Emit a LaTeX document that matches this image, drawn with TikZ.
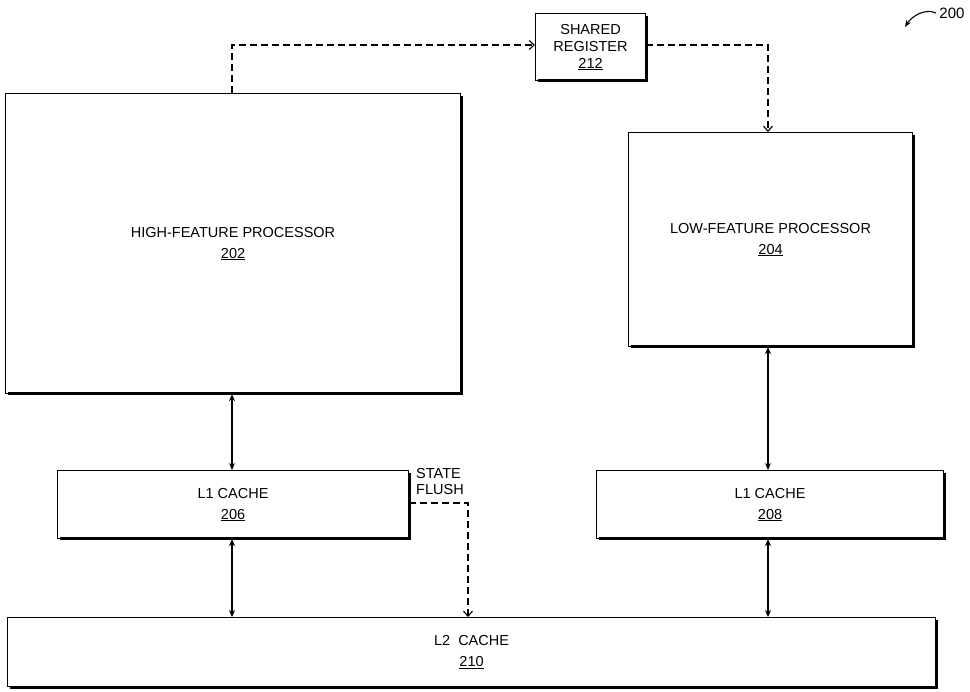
\documentclass[tikz,border=0pt]{standalone}
\usepackage{fontspec}
\setmainfont{Liberation Sans}
\usetikzlibrary{arrows.meta}
\begin{document}
\begin{tikzpicture}[x=1pt,y=-1pt,
  box/.style={draw,line width=1.1pt,fill=white,align=center,font=\fontsize{14.5}{17}\selectfont,inner sep=0pt},
  shadow/.style={line width=3pt},
  dsh/.style={line width=1.1pt,dash pattern=on 7pt off 4pt},
  arr/.style={line width=1.1pt,{Stealth[length=7pt,width=6pt]}-{Stealth[length=7pt,width=6pt]}},
  tip/.style={-{Straight Barb[length=5pt,width=9pt]}}]
\useasboundingbox (0,0) rectangle (970,692);
\newcommand{\bx}[6]{%
  \node[box,minimum width=#4-#2,minimum height=#5-#3,anchor=north west] (#1) at (#2,#3) {#6};
  \draw[shadow] (#4+1,#3+3) -- (#4+1,#5+1) -- (#2+3,#5+1);}
\bx{sr}{535}{13}{645}{80}{SHARED\\REGISTER\\\underline{212}}
\bx{hf}{5}{93}{460}{393}{HIGH-FEATURE PROCESSOR\\[4pt]\underline{202}}
\bx{lf}{628}{132}{912}{346}{LOW-FEATURE PROCESSOR\\[4pt]\underline{204}}
\bx{la}{57}{470}{408}{538}{L1 CACHE\\[4pt]\underline{206}}
\bx{lb}{596}{470}{943}{538}{L1 CACHE\\[4pt]\underline{208}}
\bx{l2}{7}{617}{935}{686}{L2\ \ CACHE\\[4pt]\underline{210}}
\coordinate (c1) at (232,45);
\coordinate (c2) at (768,45);
\coordinate (c3) at (468,503);
\draw[dsh,tip] (hf.north -| c1) -- (c1) -- (sr.west |- c1);
\draw[dsh,tip] (sr.east |- c2) -- (c2) -- (lf.north -| c2);
\draw[dsh,tip] (la.east |- c3) -- (c3) -- (l2.north -| c3);
\node[font=\fontsize{14.5}{16}\selectfont,align=left] (sf) at (440,482) {STATE\\FLUSH};
\draw[arr] (hf.south -| c1) -- (la.north -| c1);
\draw[arr] (la.south -| c1) -- (l2.north -| c1);
\draw[arr] (lf.south -| c2) -- (lb.north -| c2);
\draw[arr] (lb.south -| c2) -- (l2.north -| c2);
\node[font=\fontsize{15}{17}\selectfont] (n200) at (952,13) {200};
\coordinate (p200) at (905,27);
\draw[line width=1.1pt,-{Stealth[length=7pt]}] (n200.west) .. controls (925,8) and (912,16) .. (p200);
\end{tikzpicture}
\end{document}
